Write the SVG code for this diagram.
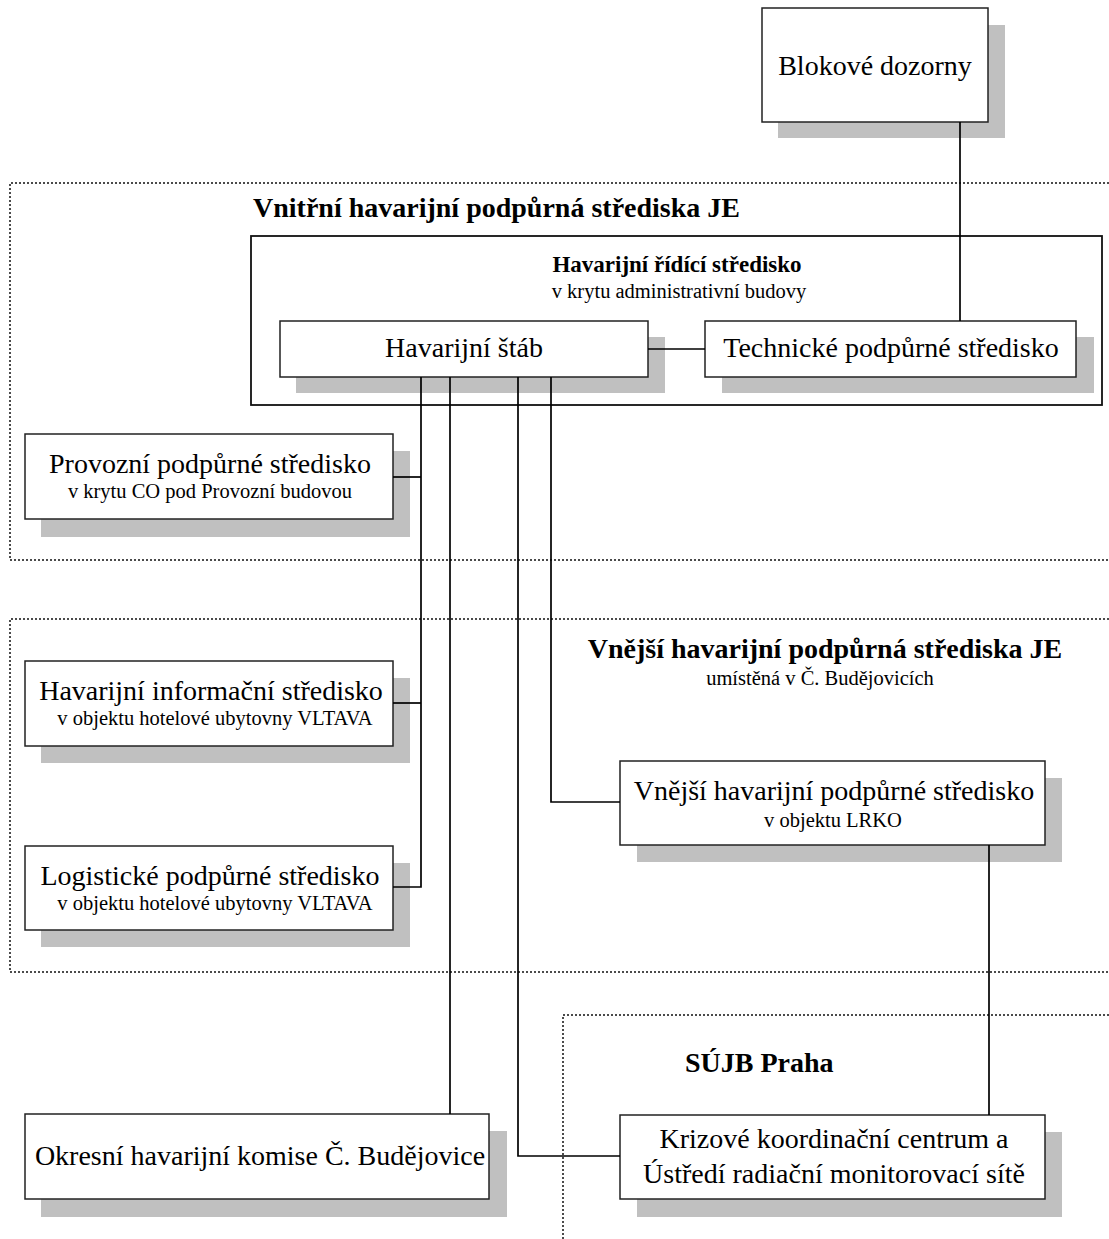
<svg xmlns="http://www.w3.org/2000/svg" width="1109" height="1239" viewBox="0 0 1109 1239">
  <style>
    text { font-family: "Liberation Serif", "Times New Roman", serif; fill: #000; }
    .main { font-size: 28px; text-anchor: middle; }
    .sub { font-size: 20.5px; text-anchor: middle; }
    .title { font-size: 28px; font-weight: bold; }
    .title2 { font-size: 23px; font-weight: bold; text-anchor: middle; }
    .box { fill: #fff; stroke: #222; stroke-width: 1.5; }
    .shadow { fill: #c0c0c0; }
    .zone { fill: none; stroke: #111; stroke-width: 1.5; stroke-dasharray: 2 2; }
    .frame { fill: none; stroke: #111; stroke-width: 1.8; }
    .link { fill: none; stroke: #000; stroke-width: 1.7; }
  </style>

  <!-- dotted zones -->
  <g id="zones">
    <path class="zone" d="M1109,183 H10 V560 H1109"/>
    <path class="zone" d="M1109,619 H10 V972 H1109"/>
    <path class="zone" d="M1109,1015 H563 V1239"/>
    <text class="title" x="253" y="217">Vnitřní havarijní podpůrná střediska JE</text>
    <text class="title" x="825" y="658" text-anchor="middle">Vnější havarijní podpůrná střediska JE</text>
    <text class="sub" x="820" y="685">umístěná v Č. Budějovicích</text>
    <text class="title" x="685" y="1072">SÚJB Praha</text>
  </g>

  <!-- control centre frame -->
  <g id="hrs">
    <rect class="frame" x="251" y="236" width="851" height="169"/>
    <text class="title2" x="677" y="272">Havarijní řídící středisko</text>
    <text class="sub" x="679" y="298">v krytu administrativní budovy</text>
  </g>

  <g id="blokove-dozorny">
    <rect class="shadow" x="778" y="25" width="227" height="113"/>
    <rect class="box" x="762" y="8" width="226" height="114"/>
    <text class="main" x="875" y="75">Blokové dozorny</text>
  </g>

  <g id="havarijni-stab">
    <rect class="shadow" x="296" y="337" width="369" height="56"/>
    <rect class="box" x="280" y="321" width="368" height="56"/>
    <text class="main" x="464" y="357">Havarijní štáb</text>
  </g>

  <g id="technicke">
    <rect class="shadow" x="722" y="337" width="372" height="56"/>
    <rect class="box" x="705" y="321" width="371" height="56"/>
    <text class="main" x="891" y="357">Technické podpůrné středisko</text>
  </g>

  <g id="provozni">
    <rect class="shadow" x="41" y="451" width="369" height="86"/>
    <rect class="box" x="25" y="434" width="368" height="85"/>
    <text class="main" x="210" y="473">Provozní podpůrné středisko</text>
    <text class="sub" x="210" y="498">v krytu CO pod Provozní budovou</text>
  </g>

  <g id="informacni">
    <rect class="shadow" x="41" y="678" width="369" height="85"/>
    <rect class="box" x="25" y="661" width="368" height="85"/>
    <text class="main" x="211" y="700">Havarijní informační středisko</text>
    <text class="sub" x="215" y="725">v objektu hotelové ubytovny VLTAVA</text>
  </g>

  <g id="logisticke">
    <rect class="shadow" x="41" y="863" width="369" height="84"/>
    <rect class="box" x="25" y="846" width="368" height="84"/>
    <text class="main" x="210" y="885">Logistické podpůrné středisko</text>
    <text class="sub" x="215" y="910">v objektu hotelové ubytovny VLTAVA</text>
  </g>

  <g id="vnejsi">
    <rect class="shadow" x="637" y="778" width="425" height="84"/>
    <rect class="box" x="620" y="761" width="425" height="84"/>
    <text class="main" x="834" y="800">Vnější havarijní podpůrné středisko</text>
    <text class="sub" x="833" y="827">v objektu LRKO</text>
  </g>

  <g id="okresni">
    <rect class="shadow" x="41" y="1131" width="466" height="86"/>
    <rect class="box" x="25" y="1114" width="464" height="85"/>
    <text class="main" x="260" y="1165">Okresní havarijní komise Č. Budějovice</text>
  </g>

  <g id="krizove">
    <rect class="shadow" x="637" y="1132" width="425" height="85"/>
    <rect class="box" x="620" y="1115" width="425" height="84"/>
    <text class="main" x="834" y="1148">Krizové koordinační centrum a</text>
    <text class="main" x="834" y="1183">Ústředí radiační monitorovací sítě</text>
  </g>

  <!-- connectors -->
  <g id="connectors">
    <path class="link" d="M960,122 V321"/>
    <path class="link" d="M648,349 H705"/>
    <path class="link" d="M421,377 V887 H393"/>
    <path class="link" d="M393,477 H421"/>
    <path class="link" d="M393,703 H421"/>
    <path class="link" d="M450,377 V1114"/>
    <path class="link" d="M518,377 V1156 H620"/>
    <path class="link" d="M551,377 V802 H620"/>
    <path class="link" d="M989,845 V1115"/>
  </g>
</svg>
